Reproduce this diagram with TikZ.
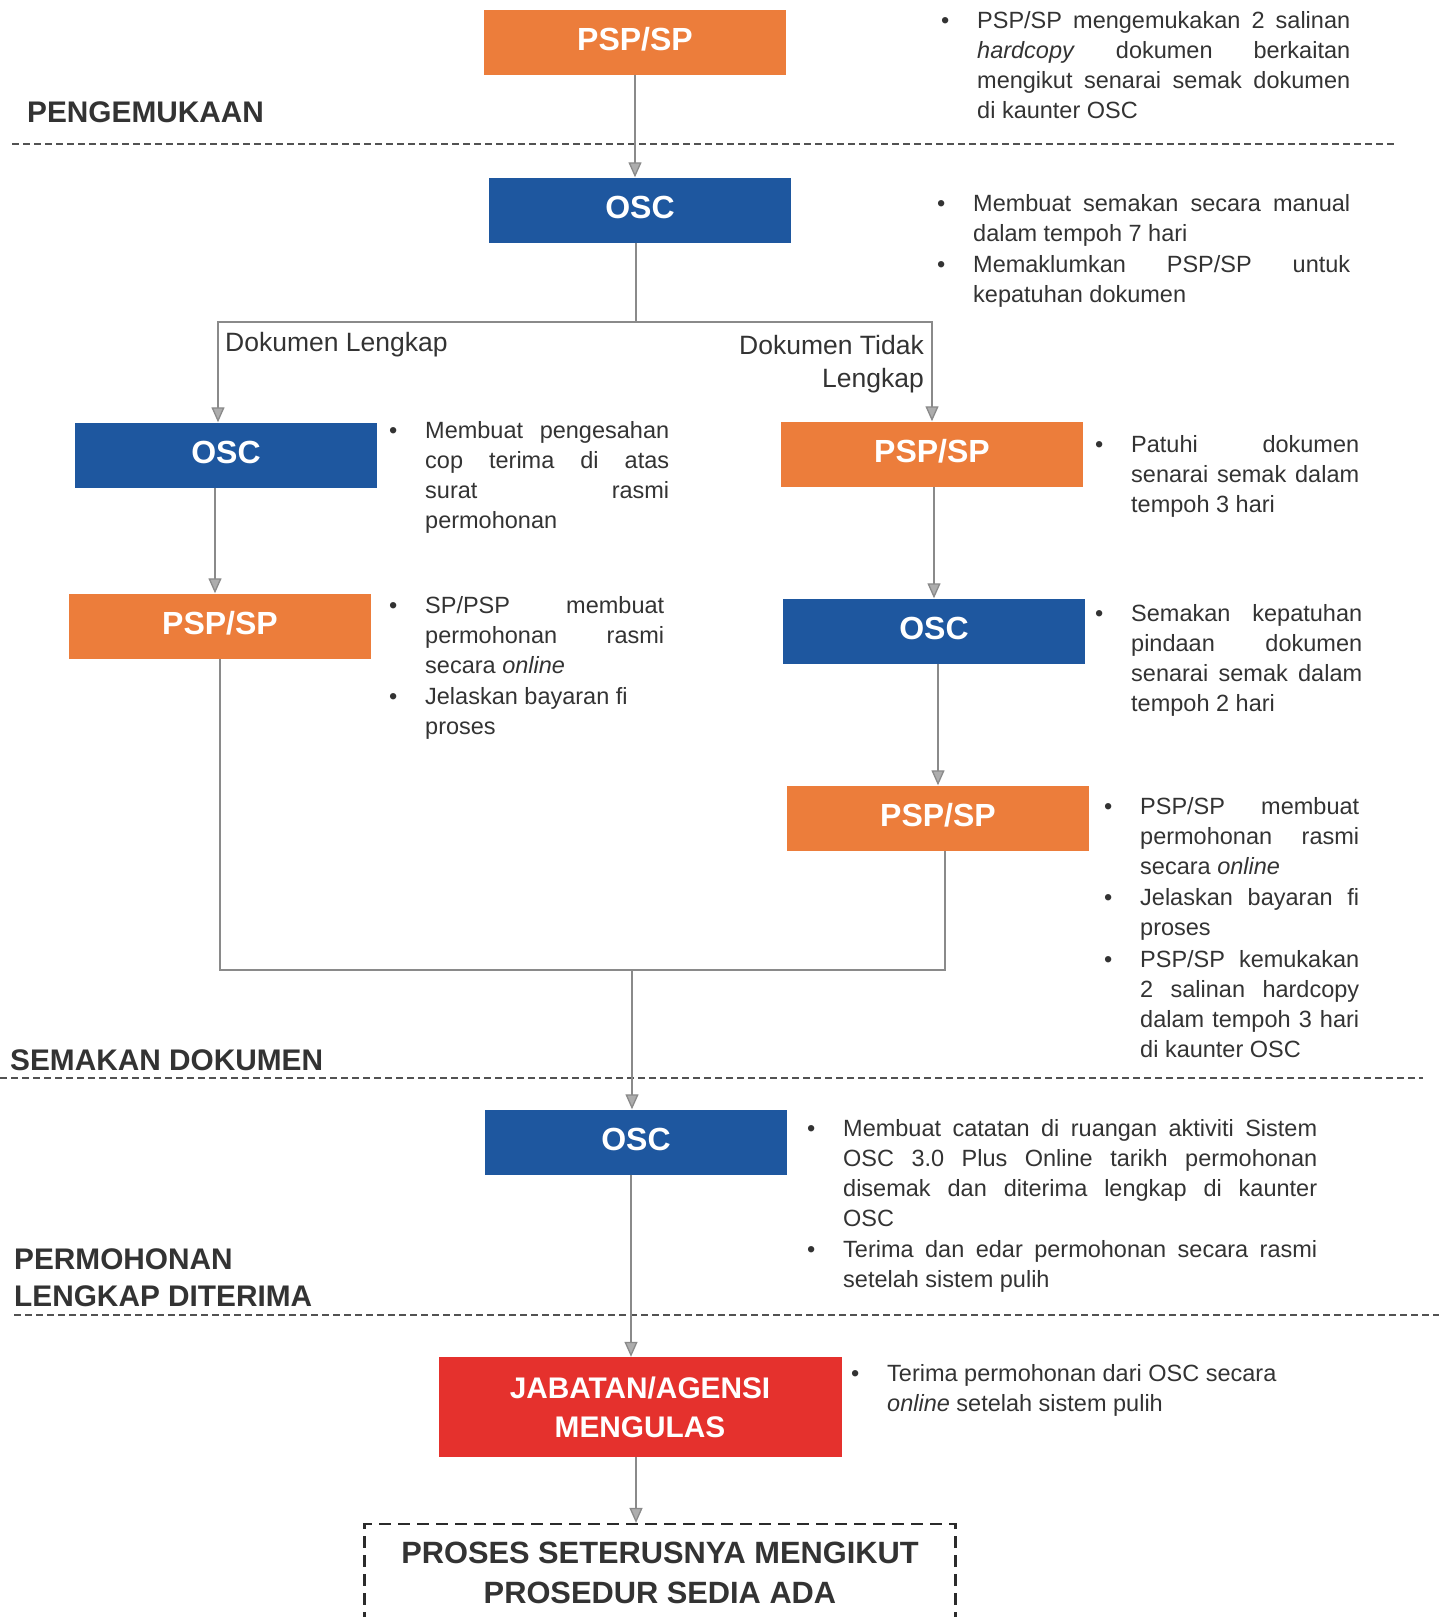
\documentclass[tikz,border=0pt]{standalone}
\usepackage{fontspec}
\setmainfont{Liberation Sans}
\usepackage{xcolor}
\usetikzlibrary{arrows.meta}
\definecolor{oren}{HTML}{EC7D3B}
\definecolor{biru}{HTML}{1E579F}
\definecolor{merah}{HTML}{E5312D}
\definecolor{kelabu}{HTML}{8A8A8A}
\definecolor{teks}{HTML}{333333}
\tikzset{>={Triangle[width=13pt,length=15pt,fill=kelabu!70]}}
\tikzset{
	kotak/.style={minimum width=302pt, minimum height=65pt, inner sep=0pt, text=white, font=\fontsize{32}{32}\selectfont\bfseries, text height=23pt, text depth=6pt},
	kotakoren/.style={kotak, fill=oren},
	kotakbiru/.style={kotak, fill=biru},
	garis/.style={draw=kelabu, line width=1.3pt},
	panah/.style={garis, ->},
	pemisah/.style={draw=teks!85, line width=1.4pt, dash pattern=on 7pt off 4pt},
	catatan/.style={anchor=base west, inner sep=0pt, text=teks, font=\fontsize{23.5}{30}\selectfont},
	label/.style={inner sep=0pt, text=teks, font=\fontsize{26.5}{33}\selectfont},
	tajuk/.style={anchor=base west, inner sep=0pt, text=teks, font=\fontsize{29.8}{37}\selectfont\bfseries},
}
%butir senarai bertitik
\newcommand{\butir}[1]{\par\parskip=1.5pt\noindent\hangindent=36pt\hangafter=1\makebox[36pt][l]{\textbullet}#1}
\newcommand{\senarai}[2]{\parbox[t]{#1}{\tolerance=10000\hyphenpenalty=10000#2}}

\begin{document}
\begin{tikzpicture}[x=1pt,y=-1pt]%[font=\sffamily]
	\useasboundingbox (0,0) rectangle (1442,1617);
	\begin{scope}
		%garis pemisah bahagian
		\draw[pemisah] (12,144) -- (1395,144);
		\draw[pemisah] (0,1078) -- (1423,1078);
		\draw[pemisah] (14,1315) -- (1439,1315);
		%tajuk bahagian
		\node[tajuk] (tajukA) at (27,122) {PENGEMUKAAN};
		\node[tajuk] (tajukB) at (10,1070) {SEMAKAN DOKUMEN};
		\node[tajuk] (tajukC) at (14,1269) {\parbox[t]{320pt}{PERMOHONAN\\LENGKAP DITERIMA}};
		%kotak-kotak proses
		\node[kotakoren] (pspA) at (635,42) {PSP/SP};
		\node[kotakbiru] (oscA) at (640,210) {OSC};
		\node[kotakbiru] (oscL) at (226,455) {OSC};
		\node[kotakoren] (pspL) at (220,626) {PSP/SP};
		\node[kotakoren] (pspR1) at (932,454) {PSP/SP};
		\node[kotakbiru] (oscR) at (934,631) {OSC};
		\node[kotakoren] (pspR2) at (938,818) {PSP/SP};
		\node[kotakbiru] (oscB) at (636,1142) {OSC};
		\node[kotak, fill=merah, minimum width=403pt, minimum height=100pt, text height=, text depth=, align=center, font=\fontsize{29.8}{39}\selectfont\bfseries] (jabatan) at (640,1407) {JABATAN/AGENSI\\MENGULAS};
		%kotak putus-putus akhir
		\node[draw=teks!85!black, line width=2.2pt, dash pattern=on 12pt off 7pt, minimum width=591pt, minimum height=98pt, align=center, text=teks, font=\fontsize{30.8}{40}\selectfont\bfseries] (proses) at (660,1573) {PROSES SETERUSNYA MENGIKUT\\PROSEDUR SEDIA ADA};
		%titik cabang dan gabung
		\coordinate (cabang) at (636,322);
		\coordinate (gabung) at (632,970);
		%anak panah
		\draw[panah] (pspA.south) -- (pspA.south |- oscA.north);
		\draw[garis] ([xshift=-4pt]oscA.south) -- (cabang);
		\draw[panah] (cabang) -| ([xshift=-8pt]oscL.north);
		\draw[panah] (cabang) -| (pspR1.north);
		\draw[panah] ([xshift=-5pt]pspL.north |- oscL.south) -- ([xshift=-5pt]pspL.north);
		\draw[panah] (oscR.north |- pspR1.south) -- (oscR.north);
		\draw[panah] (pspR2.north |- oscR.south) -- (pspR2.north);
		\draw[garis] (pspL.south) |- (gabung);
		\draw[garis] (gabung) -| ([xshift=7pt]pspR2.south);
		\draw[panah] (gabung) -- (gabung |- oscB.north);
		\draw[panah] ([xshift=-5pt]oscB.south) -- ([xshift=-5pt]oscB.south |- jabatan.north);
		\draw[panah] ([xshift=-4pt]jabatan.south) -- ([xshift=-4pt]jabatan.south |- proses.north);
		%label cabang
		\node[label, anchor=base west] (lengkap) at (225,351) {Dokumen Lengkap};
		\node[label, anchor=base east] (tidaklengkap) at (924,354) {\parbox[t]{250pt}{\raggedleft Dokumen Tidak\\Lengkap}};
		%catatan di sebelah kotak
		\node[catatan] (catatanA) at (941,28) {\senarai{409pt}{\butir{PSP/SP mengemukakan 2 salinan\linebreak \textit{hardcopy} dokumen berkaitan\linebreak mengikut senarai semak dokumen\linebreak di kaunter OSC}}};
		\node[catatan] (catatanB) at (937,211) {\senarai{413pt}{\butir{Membuat semakan secara manual\linebreak dalam tempoh 7 hari}\butir{Memaklumkan PSP/SP untuk\linebreak kepatuhan dokumen}}};
		\node[catatan] (catatanC) at (389,438) {\senarai{280pt}{\butir{Membuat pengesahan\linebreak cop terima di atas\linebreak surat rasmi\linebreak permohonan}}};
		\node[catatan] (catatanD) at (389,613) {\senarai{275pt}{\butir{SP/PSP membuat\linebreak permohonan rasmi\linebreak secara \textit{online}}\butir{Jelaskan bayaran fi\newline proses}}};
		\node[catatan] (catatanE) at (1095,452) {\senarai{264pt}{\butir{Patuhi dokumen\linebreak senarai semak dalam\linebreak tempoh 3 hari}}};
		\node[catatan] (catatanF) at (1095,621) {\senarai{267pt}{\butir{Semakan kepatuhan\linebreak pindaan dokumen\linebreak senarai semak dalam\linebreak tempoh 2 hari}}};
		\node[catatan] (catatanG) at (1104,814) {\senarai{255pt}{\butir{PSP/SP membuat\linebreak permohonan rasmi\linebreak secara \textit{online}}\butir{Jelaskan bayaran fi\linebreak proses}\butir{PSP/SP kemukakan\linebreak 2 salinan hardcopy\linebreak dalam tempoh 3 hari\linebreak di kaunter OSC}}};
		\node[catatan] (catatanH) at (807,1136) {\senarai{510pt}{\butir{Membuat catatan di ruangan aktiviti Sistem\linebreak OSC 3.0 Plus Online tarikh permohonan\linebreak disemak dan diterima lengkap di kaunter\linebreak OSC}\butir{Terima dan edar permohonan secara rasmi\linebreak setelah sistem pulih}}};
		\node[catatan] (catatanI) at (851,1381) {\senarai{470pt}{\butir{Terima permohonan dari OSC secara\newline \textit{online} setelah sistem pulih}}};
	\end{scope}
\end{tikzpicture}
\end{document}
